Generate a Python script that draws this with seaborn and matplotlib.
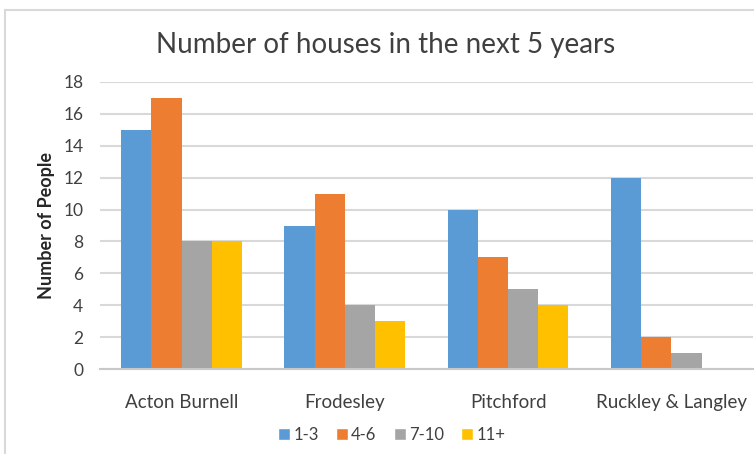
import pandas as pd
import matplotlib.pyplot as plt
import seaborn as sns
from matplotlib.lines import Line2D

# données
villages = ["Acton Burnell", "Frodesley", "Pitchford", "Ruckley & Langley"]
groupes = ["1-3", "4-6", "7-10", "11+"]
v_1_3 = [15, 9, 10, 12]
v_4_6 = [17, 11, 7, 2]
v_7_10 = [8, 4, 5, 1]
v_11p = [8, 3, 4, 0]
couleurs = ["#5B9BD5", "#ED7D31", "#A5A5A5", "#FFC000"]

df = pd.DataFrame({
    "Village": villages * 4,
    "Groupe": [g for g in groupes for _ in villages],
    "Valeur": v_1_3 + v_4_6 + v_7_10 + v_11p,
})

sns.set_style("white")
plt.rcParams["font.family"] = ["Lato", "DejaVu Sans"]

fig = plt.figure(figsize=(7.54, 4.54), dpi=100)
ax = fig.add_axes([0.1326, 0.1872, 0.866, 0.6322])

sns.barplot(data=df, x="Village", y="Valeur", hue="Groupe", order=villages,
            hue_order=groupes, palette=couleurs, width=0.74, gap=0,
            saturation=1, linewidth=0, ax=ax, legend=False)

ax.set_ylim(0, 18)
ax.set_yticks(range(0, 19, 2))
ax.set_xlim(-0.5, 3.5)
ax.yaxis.grid(True, color="#d9d9d9", linewidth=1.5)
ax.set_axisbelow(True)
for s in ["top", "right", "left"]:
    ax.spines[s].set_visible(False)
ax.spines["bottom"].set_color("#c8c8c8")
ax.spines["bottom"].set_linewidth(1.5)
ax.tick_params(axis="both", length=0, colors="#404040")
ax.tick_params(axis="x", pad=18, labelsize=13.5)
ax.tick_params(axis="y", pad=12, labelsize=12.5)
ax.set_xlabel("")
ax.set_ylabel("Number of People", fontsize=13, fontweight="bold",
              color="#262626", labelpad=6)

fig.text(0.511, 0.90, "Number of houses in the next 5 years", ha="center",
         va="center", fontsize=20, color="#404040")

# légende
poignees = [Line2D([0], [0], marker="s", color="w", markerfacecolor=c,
                   markersize=8, linestyle="") for c in couleurs]
fig.legend(poignees, groupes, loc="center", bbox_to_anchor=(0.518, 0.042),
           ncol=4, frameon=False, fontsize=12, handletextpad=0.05,
           columnspacing=0.9, handlelength=1.0, labelcolor="#404040")

# bordure du graphique
fig.add_artist(Line2D([0.007, 0.007], [0, 0.978], color="#d9d9d9", lw=1.5))
fig.add_artist(Line2D([0.007, 1], [0.978, 0.978], color="#d9d9d9", lw=1.5))

fig.savefig("out.png", dpi=100)
